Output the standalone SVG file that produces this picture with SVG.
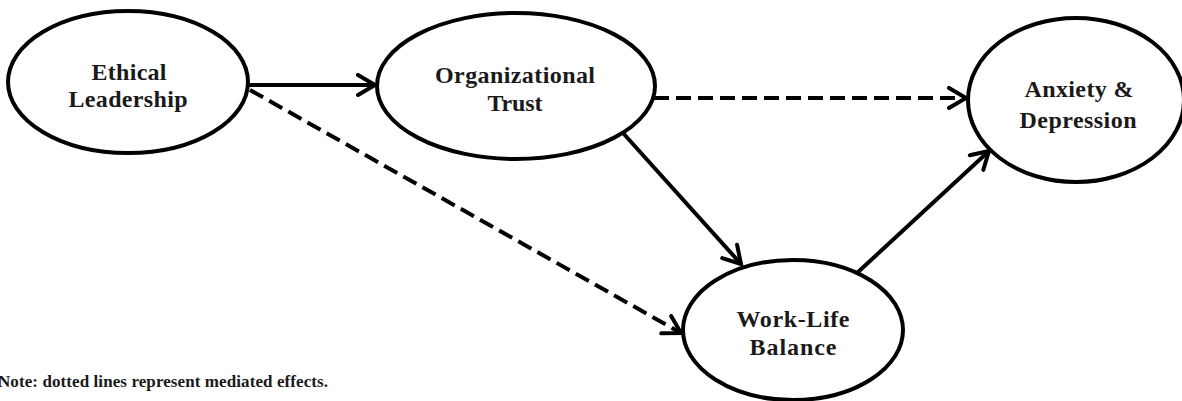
<svg xmlns="http://www.w3.org/2000/svg" width="1182" height="401" viewBox="0 0 1182 401">
<style>
.node{fill:#fff;stroke:#000;stroke-width:4}
.lbl{font-family:"Liberation Serif","Times New Roman",serif;font-weight:bold;font-size:24px;fill:#1a1a1a;text-anchor:middle}
.note{font-family:"Liberation Serif","Times New Roman",serif;font-weight:bold;font-size:17px;fill:#1a1a1a}
.edge{stroke:#000;stroke-width:4;fill:none}
.dash{stroke-dasharray:15 7}
</style>
<defs>
<marker id="arr" markerUnits="userSpaceOnUse" markerWidth="24" markerHeight="26" refX="19" refY="12" orient="auto" viewBox="0 0 24 26">
<path d="M2,2 L19,12 L2,22" fill="none" stroke="#000" stroke-width="4" stroke-linecap="round" stroke-linejoin="miter"/>
</marker>
</defs>
<g id="connectors">
<line class="edge" x1="248" y1="85" x2="375" y2="85" marker-end="url(#arr)"/>
<line class="edge dash" x1="654" y1="98" x2="966" y2="98" marker-end="url(#arr)"/>
<line class="edge dash" x1="250" y1="90" x2="681" y2="333" marker-end="url(#arr)"/>
<line class="edge" x1="623" y1="133" x2="741" y2="264" marker-end="url(#arr)"/>
<line class="edge" x1="857" y1="273" x2="989" y2="151" marker-end="url(#arr)"/>
</g>
<g id="ethical-leadership">
<ellipse class="node" cx="128" cy="82" rx="120" ry="71"/>
<text class="lbl" x="129" y="80" textLength="75" lengthAdjust="spacing">Ethical</text>
<text class="lbl" x="128" y="107" textLength="119" lengthAdjust="spacing">Leadership</text>
</g>
<g id="organizational-trust">
<ellipse class="node" cx="516" cy="86" rx="139" ry="73"/>
<text class="lbl" x="515" y="83" textLength="160" lengthAdjust="spacing">Organizational</text>
<text class="lbl" x="515" y="111" textLength="55" lengthAdjust="spacing">Trust</text>
</g>
<g id="anxiety-depression">
<ellipse class="node" cx="1076" cy="100" rx="108" ry="82"/>
<text class="lbl" x="1079" y="97" textLength="109" lengthAdjust="spacing">Anxiety &amp;</text>
<text class="lbl" x="1078" y="128" textLength="117" lengthAdjust="spacing">Depression</text>
</g>
<g id="work-life-balance">
<ellipse class="node" cx="793" cy="330" rx="110" ry="70"/>
<text class="lbl" x="793" y="327" textLength="113" lengthAdjust="spacing">Work-Life</text>
<text class="lbl" x="793" y="355" textLength="87" lengthAdjust="spacing">Balance</text>
</g>
<text class="note" x="-2" y="387" textLength="330" lengthAdjust="spacing">Note: dotted lines represent mediated effects.</text>
</svg>
